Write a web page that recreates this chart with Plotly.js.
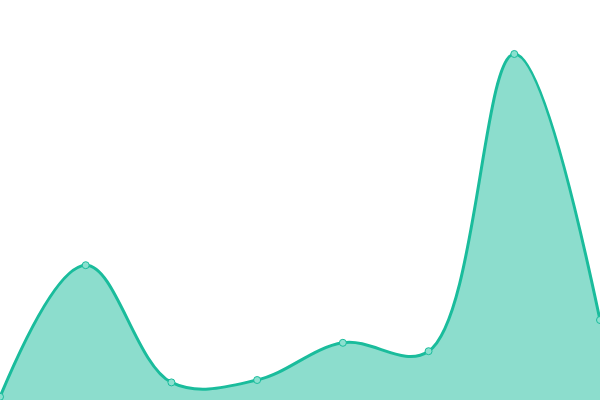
<!DOCTYPE html>
<html>
<head>
<meta charset="utf-8">
<script src="https://cdn.plot.ly/plotly-3.0.1.min.js"></script>
<style>
  html, body { margin: 0; padding: 0; background: #fff; }
  #chart { width: 600px; height: 400px; }
</style>
</head>
<body>
<div id="chart"></div>
<script>
// point positions along x (index) and values (0-100 scale)
const xIndex = [0, 1, 2, 3, 4, 5, 6, 7];
const values = [0.8, 33.7, 4.4, 5.0, 14.3, 12.2, 86.5, 20];

const LINE = '#1abc9c';
const FILL = 'rgba(26,188,156,0.5)';

Plotly.newPlot('chart', [{
  x: xIndex, y: values,
  type: 'scatter', mode: 'lines+markers',
  line: { color: LINE, width: 3, shape: 'spline', smoothing: 1.05 },
  fill: 'tozeroy', fillcolor: FILL,
  marker: { size: 7, color: '#8be0cf', line: { color: LINE, width: 1 } },
  cliponaxis: true,
  hoverinfo: 'skip',
}], {
  paper_bgcolor: '#fff', plot_bgcolor: '#fff',
  width: 600, height: 400,
  margin: { l: 0, r: 0, t: 0, b: 0 },
  showlegend: false,
  xaxis: { range: [0, 7], visible: false, fixedrange: true },
  yaxis: { range: [0, 100], visible: false, fixedrange: true },
}, { displayModeBar: false, staticPlot: true });
</script>
</body>
</html>
